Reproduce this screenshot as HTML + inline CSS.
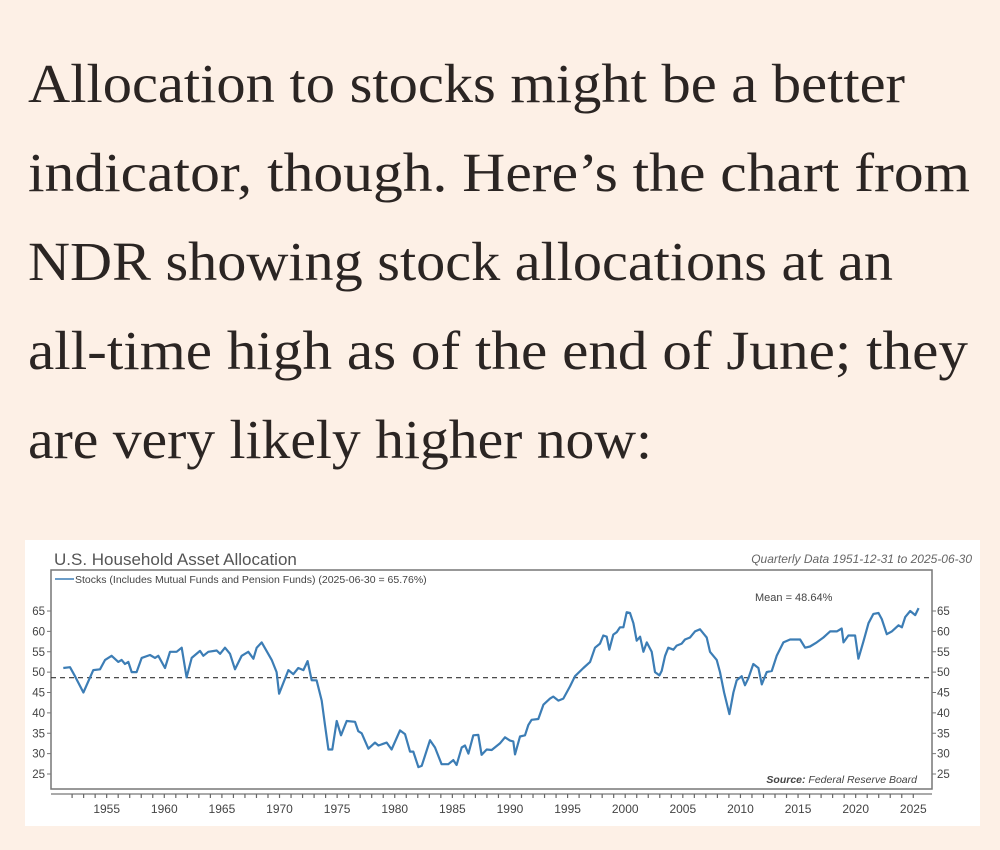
<!DOCTYPE html>
<html><head><meta charset="utf-8">
<style>
html,body{margin:0;padding:0;background:#fdf0e6;width:1000px;height:850px;overflow:hidden}
svg{display:block}
</style></head>
<body>
<svg width="1000" height="850" viewBox="0 0 1000 850" xmlns="http://www.w3.org/2000/svg">
<rect x="0" y="0" width="1000" height="850" fill="#fdf0e6"/>
<g font-family="'Liberation Serif', serif" font-size="55" fill="#2b2523">
<text x="28" y="102" textLength="877" lengthAdjust="spacingAndGlyphs">Allocation to stocks might be a better</text>
<text x="28" y="191" textLength="942" lengthAdjust="spacingAndGlyphs">indicator, though. Here’s the chart from</text>
<text x="28" y="280" textLength="865" lengthAdjust="spacingAndGlyphs">NDR showing stock allocations at an</text>
<text x="28" y="369" textLength="940" lengthAdjust="spacingAndGlyphs">all-time high as of the end of June; they</text>
<text x="28" y="458" textLength="624" lengthAdjust="spacingAndGlyphs">are very likely higher now:</text>
</g>
<g id="chart">
<rect x="25" y="540" width="955" height="286" fill="#ffffff"/>
<text x="54" y="565" font-family="'Liberation Sans', sans-serif" font-size="17" fill="#555">U.S. Household Asset Allocation</text>
<text x="972" y="563" text-anchor="end" font-family="'Liberation Sans', sans-serif" font-size="12" font-style="italic" fill="#666">Quarterly Data 1951-12-31 to 2025-06-30</text>
<rect x="51" y="570" width="881" height="219" fill="none" stroke="#777" stroke-width="1.5"/>
<line x1="55" y1="579" x2="74" y2="579" stroke="#3c7db5" stroke-width="1.5"/>
<text x="75" y="583" font-family="'Liberation Sans', sans-serif" font-size="10.5" fill="#444">Stocks (Includes Mutual Funds and Pension Funds) (2025-06-30 = 65.76%)</text>
<text x="755" y="601" font-family="'Liberation Sans', sans-serif" font-size="11" fill="#444">Mean = 48.64%</text>
<text x="917" y="783" text-anchor="end" font-family="'Liberation Sans', sans-serif" font-size="10.5" font-style="italic" fill="#444"><tspan font-weight="bold">Source:</tspan>   Federal Reserve Board</text>
<g id="axes"></g>
<g id="series"></g>
</g>
</svg>
<script>
const years=[1951.24,1951.82,1952.25,1952.98,1953.84,1954.42,1954.86,1955.43,1956.01,1956.30,1956.59,1956.88,1957.17,1957.60,1958.04,1958.76,1959.19,1959.48,1960.06,1960.50,1961.07,1961.51,1961.94,1962.38,1963.10,1963.39,1963.82,1964.55,1964.84,1965.27,1965.70,1966.14,1966.72,1967.29,1967.73,1968.02,1968.45,1969.32,1969.75,1969.96,1970.77,1971.20,1971.63,1972.07,1972.44,1972.79,1973.22,1973.66,1973.95,1974.24,1974.58,1974.96,1975.34,1975.83,1976.55,1976.84,1977.13,1977.71,1978.29,1978.58,1979.30,1979.73,1980.46,1980.89,1981.32,1981.61,1982.05,1982.34,1983.06,1983.49,1984.07,1984.65,1985.08,1985.37,1985.81,1986.10,1986.39,1986.82,1987.25,1987.54,1987.98,1988.41,1989.13,1989.57,1990.00,1990.29,1990.44,1990.87,1991.30,1991.59,1991.88,1992.46,1992.90,1993.47,1993.76,1994.20,1994.63,1995.21,1995.64,1996.37,1996.95,1997.38,1997.81,1998.10,1998.39,1998.62,1998.97,1999.26,1999.55,1999.84,2000.13,2000.42,2000.71,2001.00,2001.29,2001.58,2001.87,2002.30,2002.59,2002.97,2003.17,2003.46,2003.74,2004.18,2004.47,2004.90,2005.19,2005.62,2006.06,2006.49,2007.07,2007.36,2007.94,2008.23,2008.58,2009.04,2009.39,2009.68,2010.11,2010.40,2010.69,2011.12,2011.56,2011.85,2012.28,2012.72,2013.15,2013.73,2014.31,2015.18,2015.61,2016.04,2016.62,2017.20,2017.78,2018.36,2018.79,2018.94,2019.37,2019.95,2020.24,2020.67,2021.11,2021.54,2021.98,2022.27,2022.70,2023.14,2023.72,2024.01,2024.30,2024.73,2025.17,2025.46];
const stocks=[51,51.2,49,45,50.5,50.7,53,54,52.5,53,52,52.5,50,50,53.5,54.2,53.5,54,51,55,55,56,48.7,53.5,55.2,54,55,55.3,54.5,56,54.5,50.7,54,55,53.3,56,57.3,53,50,44.7,50.5,49.5,51,50.5,52.7,48,48,43,37,31,31,38,34.5,38,37.8,35.5,35,31.2,32.7,32,32.7,31,35.7,34.8,30.5,30.5,26.7,27,33.3,31.5,27.4,27.4,28.4,27.2,31.5,32,30,34.5,34.6,29.7,31,30.9,32.5,34,33.2,33,29.8,34.2,34.5,37,38.3,38.5,42,43.5,44,43,43.5,46.5,49,51,52.5,56,57,59,58.7,55.5,59.2,59.8,61,61,64.7,64.5,62,57.7,58.7,55,57.3,55,50,49.2,50.3,54,56,55.5,56.5,57,58,58.5,60,60.5,58.5,55,53,50,45,39.7,45,48,49,46.8,48.5,52,51,47,50,50.3,54,57.3,58,58,56,56.3,57.3,58.5,60,60,60.7,57.3,59,59,53.3,57.5,62,64.3,64.5,63,59.3,60,61.5,61,63.5,65,64,65.7];
const meanValue=48.64;
const yTicks=[25,30,35,40,45,50,55,60,65];
const xTickLabels=[1955,1960,1965,1970,1975,1980,1985,1990,1995,2000,2005,2010,2015,2020,2025];

const NS='http://www.w3.org/2000/svg';
function xs(yr){return 106.67+(yr-1955)*11.523;}
function ys(v){return 611+(65-v)*4.075;}
function mk(tag,attrs,parent){const e=document.createElementNS(NS,tag);for(const k in attrs)e.setAttribute(k,attrs[k]);parent.appendChild(e);return e;}
const axes=document.getElementById('axes');
const series=document.getElementById('series');
yTicks.forEach(v=>{
  const y=ys(v);
  const t1=mk('line',{x1:47,y1:y,x2:51,y2:y,stroke:'#777','stroke-width':1},axes);
  
  
  const t2=mk('line',{x1:932,y1:y,x2:936,y2:y,stroke:'#777','stroke-width':1},axes);
  
  
  const l1=mk('text',{x:45,y:y+4,'text-anchor':'end','font-family':"'Liberation Sans', sans-serif",'font-size':11.5,fill:'#444'},axes);
  l1.textContent=v;
  
  
  const l2=mk('text',{x:937,y:y+4,'font-family':"'Liberation Sans', sans-serif",'font-size':11.5,fill:'#444'},axes);
  l2.textContent=v;
  
  
});
const xa=mk('line',{x1:51,y1:794,x2:932,y2:794,stroke:'#777','stroke-width':1.2},axes);


for(let yr=1952;yr<=2025;yr++){
  const tk=mk('line',{x1:xs(yr),y1:794,x2:xs(yr),y2:798,stroke:'#666','stroke-width':1.2},axes);
  
  
}
xTickLabels.forEach(yr=>{
  const l=mk('text',{x:xs(yr),y:813,'text-anchor':'middle','font-family':"'Liberation Sans', sans-serif",'font-size':12,fill:'#444'},axes);
  l.textContent=yr;
  
  
});
const ml=mk('line',{x1:51,y1:ys(meanValue),x2:932,y2:ys(meanValue),stroke:'#333','stroke-width':1.2,'stroke-dasharray':'5,4'},series);


const d=years.map((yr,i)=>(i?'L':'M')+xs(yr).toFixed(1)+','+ys(stocks[i]).toFixed(1)).join('');
const p=mk('path',{d:d,fill:'none',stroke:'#3c7db5','stroke-width':2.2,'stroke-linejoin':'round'},series);


</script>
</body></html>
